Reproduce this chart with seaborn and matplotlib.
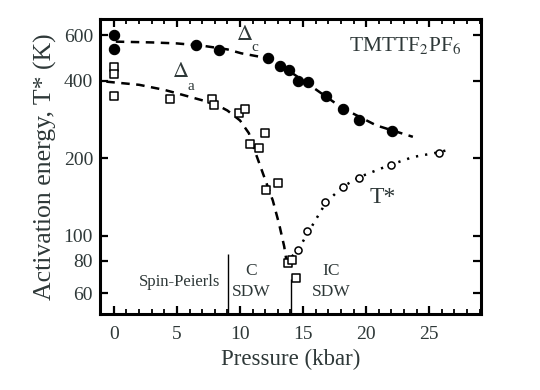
import numpy as np
import pandas as pd
import matplotlib
matplotlib.use("Agg")
import matplotlib.pyplot as plt
from matplotlib.ticker import NullLocator, MultipleLocator
import seaborn as sns

# -----------------------------------------------------
# Data (pressure in kbar, energies in K)
# -----------------------------------------------------
dc_p = [0.0, 0.0, 6.5, 8.3, 12.2, 13.2, 13.86, 14.57, 15.37, 16.83, 18.14, 19.41, 22.06]
dc_v = [600, 530, 548, 525, 488, 456, 439, 399, 396, 348, 309, 281, 255]

da_p = [0.0, 0.0, 0.0, 4.44, 7.75, 7.96, 9.89, 10.42, 12.0, 10.82, 11.53,
        12.06, 13.04, 13.78, 14.13, 14.44]
da_v = [451, 424, 349, 339, 339, 321, 300, 309, 250, 228, 220,
        151, 160, 78.5, 80.5, 68.5]

ts_p = [14.63, 15.3, 16.77, 18.14, 19.47, 21.93, 25.78]
ts_v = [88, 104, 135, 155, 168, 189, 210]

# guide curves
dc_fit_p = [0.15, 3, 5, 7, 9, 10.1, 12.2, 13.9, 15, 16.3, 18.1, 20.8, 23.7]
dc_fit_v = [566, 562, 557, 546, 528, 510, 488, 435, 400, 361, 313, 268, 242]

da_fit_p = [-0.6, 2, 4, 6, 8, 9, 10, 10.7, 11.3, 11.9, 12.6, 13.1, 13.5, 13.7]
da_fit_v = [396, 385, 368, 346, 325, 306, 280, 250, 205, 170, 137, 111, 91, 79]

ts_fit_p = [13.65, 14.7, 15.5, 16.16, 16.83, 18.14, 19.47, 21.85, 23.7, 25.8, 26.75]
ts_fit_v = [78, 90, 105, 119, 135, 155, 169, 188, 202, 211, 217]

# phase boundaries
sp_c_p, sp_c_top = 9.02, 85
c_ic_p, c_ic_top = 14.05, 68

# -----------------------------------------------------
# Style
# -----------------------------------------------------
sns.set_style("ticks")
plt.rcParams["font.family"] = ["Liberation Serif", "DejaVu Serif"]
plt.rcParams["mathtext.fontset"] = "stix"
txt = "#2e3838"

fig = plt.figure(figsize=(5.4, 3.9), dpi=100)
ax = fig.add_axes([0.1852, 0.195, 0.7055, 0.756])

# -----------------------------------------------------
# Curves
# -----------------------------------------------------
sns.lineplot(x=dc_fit_p, y=dc_fit_v, ax=ax, color="black", lw=1.8,
             linestyle=(0, (3.4, 2.6)), sort=False, estimator=None)
sns.lineplot(x=da_fit_p, y=da_fit_v, ax=ax, color="black", lw=1.8,
             linestyle=(0, (3.4, 2.6)), sort=False, estimator=None)
sns.lineplot(x=ts_fit_p, y=ts_fit_v, ax=ax, color="black", lw=1.8,
             linestyle=(0, (0.9, 2.8)), sort=False, estimator=None)

# -----------------------------------------------------
# Points
# -----------------------------------------------------
sns.scatterplot(x=dc_p, y=dc_v, ax=ax, marker="o", s=55, color="black",
                edgecolor="black", linewidth=0.8, zorder=3)
sns.scatterplot(x=da_p, y=da_v, ax=ax, marker="s", s=34, color="white",
                edgecolor="black", linewidth=1.1, zorder=3)
sns.scatterplot(x=ts_p, y=ts_v, ax=ax, marker="o", s=26, color="white",
                edgecolor="black", linewidth=1.1, zorder=3)

# phase boundary lines
ax.vlines([sp_c_p, c_ic_p], [1, 1], [sp_c_top, c_ic_top], color="black", lw=1.0)

# -----------------------------------------------------
# Axes
# -----------------------------------------------------
ax.set_yscale("log")
ax.set_xlim(-1.1, 29.1)
ax.set_ylim(49.8, 692)
ax.set_xticks([0, 5, 10, 15, 20, 25])
ax.xaxis.set_minor_locator(MultipleLocator(1))
ax.set_yticks([60, 80, 100, 200, 400, 600], labels=["60", "80", "100", "200", "400", "600"])
ax.yaxis.set_minor_locator(NullLocator())
ax.tick_params(which="both", direction="in", top=True, right=True,
               colors="black", labelcolor=txt, labelsize=14)
ax.tick_params(which="major", length=6, width=1.6)
ax.tick_params(which="minor", length=3.5, width=1.3)
ax.tick_params(axis="y", pad=5)
ax.tick_params(axis="x", pad=9)
for s in ax.spines.values():
    s.set_linewidth(2.2)
    s.set_color("black")

ax.set_xlabel("Pressure (kbar)", fontsize=16.5, color=txt, labelpad=4)
ax.set_ylabel("Activation energy, T* (K)", fontsize=18.5, color=txt, labelpad=5)

# -----------------------------------------------------
# Annotations
# -----------------------------------------------------
ax.text(10.35, 600, r"$\Delta$", fontsize=16, color=txt, ha="center", va="center")
ax.text(11.2, 538, "c", fontsize=11, color=txt, ha="center", va="center")
ax.text(5.32, 431, r"$\Delta$", fontsize=16, color=txt, ha="center", va="center")
ax.text(6.13, 380, "a", fontsize=11, color=txt, ha="center", va="center")
ax.text(27.6, 548, r"TMTTF$_2$PF$_6$", fontsize=15.5, color=txt, ha="right", va="center")
ax.text(21.3, 141, "T*", fontsize=17, color=txt, ha="center", va="center")
ax.text(5.2, 66, "Spin-Peierls", fontsize=12, color=txt, ha="center", va="center")
ax.text(10.85, 73, "C", fontsize=12.5, color=txt, ha="center", va="center")
ax.text(10.85, 60.5, "SDW", fontsize=12.5, color=txt, ha="center", va="center")
ax.text(17.2, 73, "IC", fontsize=12.5, color=txt, ha="center", va="center")
ax.text(17.2, 60.5, "SDW", fontsize=12.5, color=txt, ha="center", va="center")

fig.savefig("out.png", dpi=100)
